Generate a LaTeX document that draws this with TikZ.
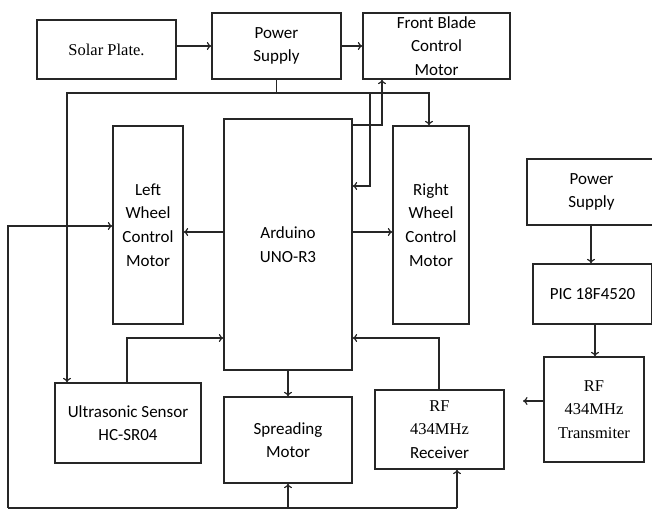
\documentclass[tikz,border=0pt]{standalone}
\usepackage{fontspec}
\setmainfont{Carlito}
\newfontfamily\tnr{Liberation Serif}
\usetikzlibrary{arrows.meta}
\tikzset{
  blk/.style={draw=black!85, line width=1.3pt, align=center, inner sep=0pt,
    font=\fontsize{17}{23.7}\selectfont},
  conn/.style={draw=black!85, line width=1.2pt, -{To[length=4.5pt,width=8pt]}},
  wire/.style={draw=black!85, line width=1.2pt},
}
\newcommand{\tmr}[1]{{\tnr\fontsize{16.5}{22.5}\selectfont #1}}
\begin{document}
\begin{tikzpicture}[x=1pt,y=-1pt]
\useasboundingbox (0,0) rectangle (652,509);
% boxes
\node[blk, minimum width=139pt, minimum height=59pt] (solar) at (106.5,49.5) {\tmr{Solar Plate.}};
\node[blk, minimum width=129pt, minimum height=66pt] (ps1) at (276.5,46) {Power\\Supply};
\node[blk, minimum width=147pt, minimum height=66pt] (fb) at (436.5,46) {Front Blade\\Control\\Motor};
\node[blk, minimum width=70pt, minimum height=198pt] (lw) at (148,225) {Left\\Wheel\\Control\\Motor};
\node[blk, minimum width=128pt, minimum height=251pt] (ard) at (288,244.5) {Arduino\\UNO-R3};
\node[blk, minimum width=76pt, minimum height=198pt] (rw) at (431,225) {Right\\Wheel\\Control\\Motor};
\node[blk, minimum width=146pt, minimum height=80pt] (us) at (128,423) {Ultrasonic Sensor\\HC-SR04};
\node[blk, minimum width=128pt, minimum height=86pt] (sp) at (288,440) {Spreading\\Motor};
\node[blk, minimum width=129pt, minimum height=79pt] (rx) at (439.5,429.5) {\tmr{RF}\\\tmr{434MHz}\\Receiver};
\node[blk, minimum width=129pt, minimum height=66pt] (ps2) at (591.5,192) {Power\\Supply};
\node[blk, minimum width=119pt, minimum height=60pt] (pic) at (592.5,294) {PIC 18F4520};
\node[blk, minimum width=100pt, minimum height=105pt] (tx) at (594,409.5) {\tmr{RF}\\\tmr{434MHz}\\\tmr{Transmiter}};
% helper coordinates
\coordinate (busy) at (0,93);
\coordinate (pl) at (67,93);
\coordinate (pr) at (429,93);
\coordinate (pa) at (370,93);
\coordinate (pay) at (0,186);
\coordinate (fbx) at (382,125);
\coordinate (mid) at (0,232);
\coordinate (lb) at (8,508);
\coordinate (lt) at (8,226);
\coordinate (rbx) at (457,508);
\coordinate (sens) at (0,338);
\coordinate (txo) at (523,401);
% connectors
\draw[conn] (solar.east |- ps1) -- (ps1.west);
\draw[conn] (ps1.east) -- (fb.west);
\draw[conn] (ps1.south) -- (ps1.south |- busy) -- (pl) -- (pl |- us.north);
\draw[conn] (ps1.south |- busy) -- (pr) -- (pr |- rw.north);
\draw[conn] (pa) -- (pa |- pay) -- (ard.east |- pay);
\draw[conn] (ard.east |- fbx) -- (fbx) -- (fbx |- fb.south);
\draw[conn] (ard.west |- mid) -- (lw.east |- mid);
\draw[conn] (ard.east |- mid) -- (rw.west |- mid);
\draw[conn] (lb) -- (lt) -- (lw.west |- lt);
\draw[wire] (lb) -- (rbx);
\draw[conn] (sp.south |- lb) -- (sp.south);
\draw[conn] (rbx) -- (rbx |- rx.south);
\draw[conn] (us.north -| 127,0) -- (127,338) -- (ard.west |- sens);
\draw[conn] (ard.south) -- (sp.north);
\draw[conn] (rx.north -| 439,0) -- (439,338) -- (ard.east |- sens);
\draw[conn] (ps2.south -| 591,0) -- (591,0 |- pic.north);
\draw[conn] (pic.south -| 595,0) -- (595,0 |- tx.north);
\draw[conn] (tx.west |- txo) -- (txo);
\end{tikzpicture}
\end{document}
